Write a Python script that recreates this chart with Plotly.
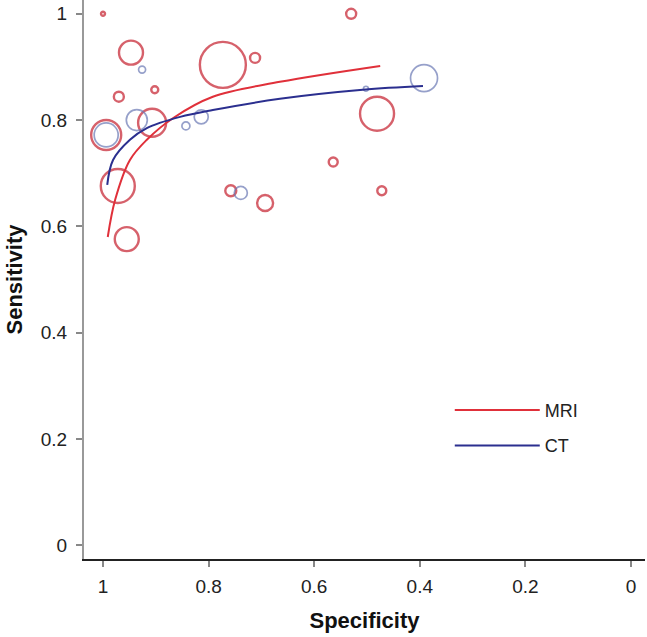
import plotly.graph_objects as go

# ---- data ----
# MRI studies: specificity, sensitivity, weight (bubble diameter in px)
mri_spec = [1.000, 0.947, 0.773, 0.712, 0.902, 0.970, 0.907, 0.994, 0.972, 0.955, 0.758, 0.693, 0.530, 0.481, 0.564, 0.472]
mri_sens = [1.000, 0.927, 0.904, 0.917, 0.857, 0.844, 0.795, 0.772, 0.676, 0.576, 0.667, 0.644, 1.000, 0.812, 0.721, 0.667]
mri_weight = [4, 24, 46, 10, 7, 10, 28, 30, 34, 24, 11, 16, 10, 34, 9, 9]

# CT studies
ct_spec = [0.926, 0.936, 0.843, 0.814, 0.994, 0.739, 0.392, 0.502]
ct_sens = [0.895, 0.800, 0.789, 0.806, 0.772, 0.663, 0.879, 0.859]
ct_weight = [7, 21, 8, 14, 24, 13, 27, 5]

# SROC curves
mri_curve_spec = [0.991, 0.977, 0.949, 0.917, 0.867, 0.792, 0.665, 0.475]
mri_curve_sens = [0.580, 0.650, 0.725, 0.763, 0.804, 0.844, 0.872, 0.902]
ct_curve_spec = [0.992, 0.981, 0.949, 0.917, 0.854, 0.792, 0.665, 0.508, 0.394]
ct_curve_sens = [0.678, 0.725, 0.763, 0.785, 0.806, 0.819, 0.840, 0.857, 0.864]

x_ticks = [1, 0.8, 0.6, 0.4, 0.2, 0]
y_ticks = [0, 0.2, 0.4, 0.6, 0.8, 1]

RED = "#c41e2c"
BLUE_PT = "#6a78b4"
RED_LINE = "#e0303a"
BLUE_LINE = "#2b2f8f"


def fmt(v):
    return str(int(v)) if v in (0, 1) else str(v)


fig = go.Figure()

fig.add_trace(go.Scatter(
    x=mri_spec, y=mri_sens, mode="markers", showlegend=False, hoverinfo="skip",
    marker=dict(symbol="circle-open", size=mri_weight, color=RED, line=dict(width=2.4, color=RED)),
))
fig.add_trace(go.Scatter(
    x=ct_spec, y=ct_sens, mode="markers", showlegend=False, hoverinfo="skip",
    marker=dict(symbol="circle-open", size=ct_weight, color=BLUE_PT, line=dict(width=1.7, color=BLUE_PT)),
))
fig.add_trace(go.Scatter(
    x=mri_curve_spec, y=mri_curve_sens, mode="lines", name="MRI", legendgroup="mri",
    line=dict(color=RED_LINE, width=2, shape="spline"),
))
fig.add_trace(go.Scatter(
    x=ct_curve_spec, y=ct_curve_sens, mode="lines", name="CT", legendgroup="ct",
    line=dict(color=BLUE_LINE, width=2, shape="spline"),
))

fig.update_layout(
    width=647, height=637,
    margin=dict(l=84, r=2, t=0, b=78),
    paper_bgcolor="white", plot_bgcolor="white",
    font=dict(family="Liberation Sans, Arial, sans-serif", size=19, color="#222"),
    legend=dict(x=0.652, y=0.299, xanchor="left", yanchor="top",
                bgcolor="rgba(0,0,0,0)", font=dict(size=18, color="#222"),
                itemwidth=85, tracegroupgap=9),
)
fig.update_xaxes(
    range=[1.036, -0.0265], tickvals=x_ticks, ticktext=[fmt(v) for v in x_ticks],
    showgrid=False, zeroline=False, showline=True, linecolor="#222", linewidth=1.5,
    ticks="outside", ticklen=6, tickcolor="#888", tickwidth=1.5, automargin=False,
    ticklabelstandoff=3,
    title=dict(text="<b>Specificity</b>", font=dict(size=22, color="#111"), standoff=17),
)
fig.update_yaxes(
    range=[-0.026, 1.026], tickvals=y_ticks, ticktext=[fmt(v) for v in y_ticks],
    showgrid=False, zeroline=False, showline=True, linecolor="#999", linewidth=2,
    ticks="outside", ticklen=6, tickcolor="#888", tickwidth=1.5, automargin=False,
    ticklabelstandoff=5, ticklabeloverflow="allow",
    title=dict(text="<b>Sensitivity</b>", font=dict(size=22, color="#111"), standoff=12),
)

# remove the default 8px page margin so the figure sits at the window's top-left corner
fig.write_html("out.html", config={"displayModeBar": False},
               post_script="document.body.style.margin='0';")
